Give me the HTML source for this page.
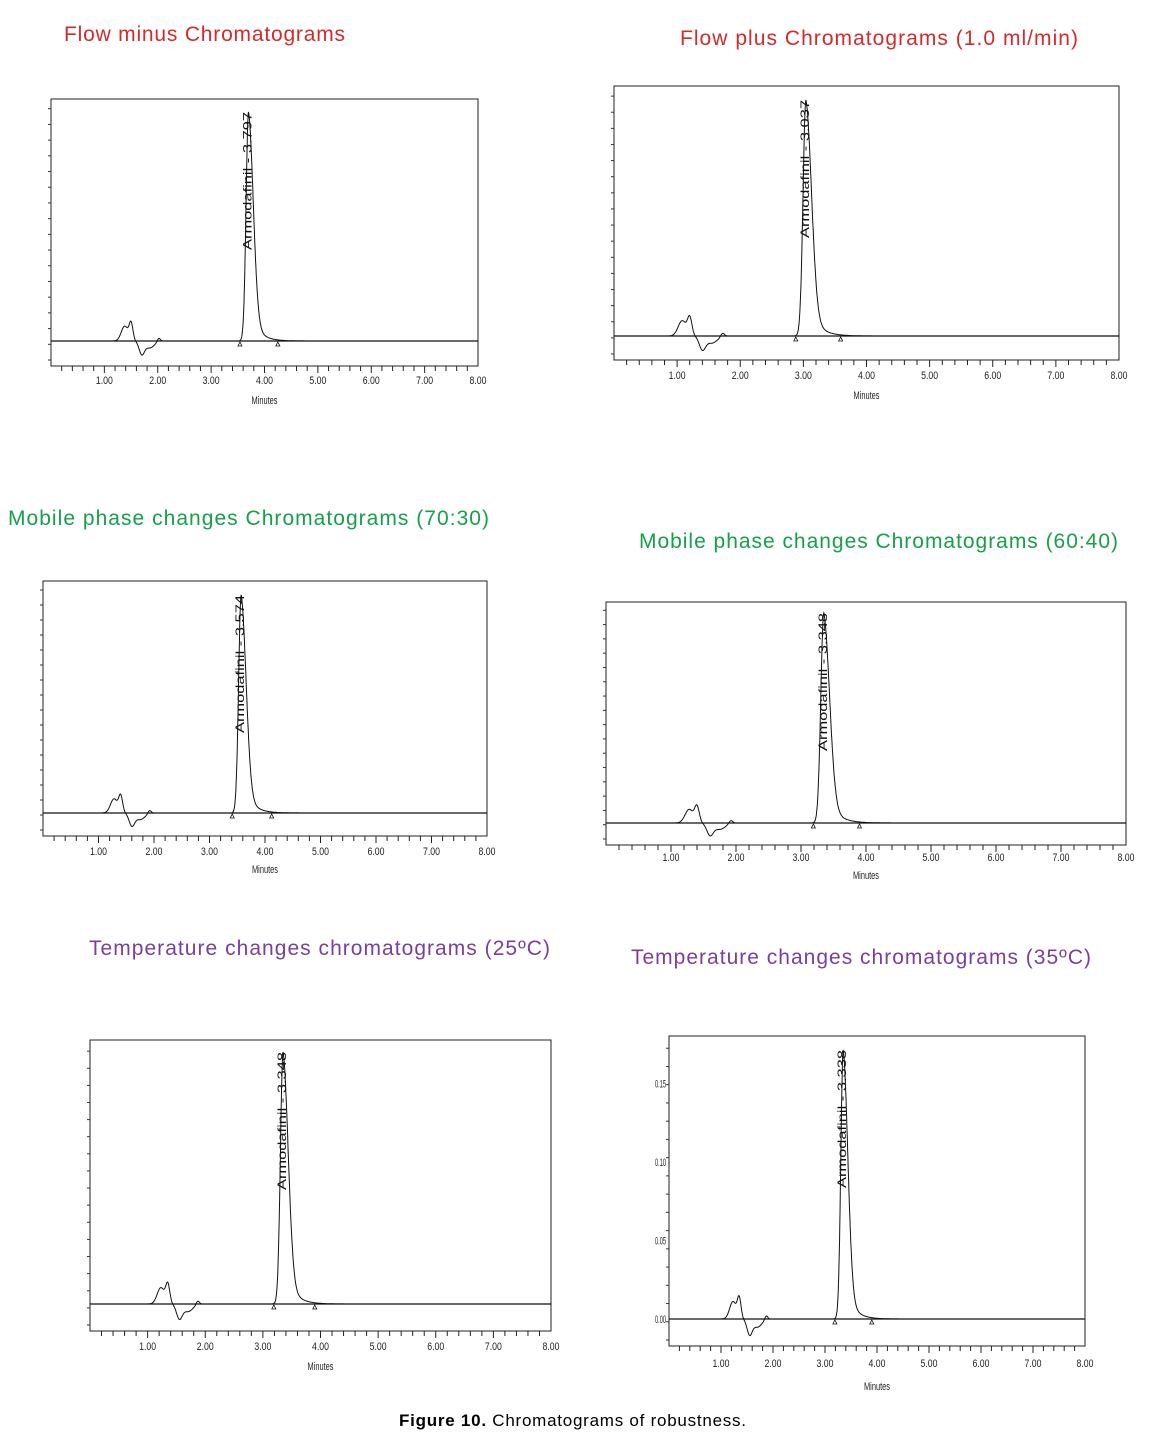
<!DOCTYPE html>
<html><head><meta charset="utf-8">
<style>
html,body{margin:0;padding:0;background:#fff;}
svg{display:block;font-family:"Liberation Sans",Arial,sans-serif;}
</style></head>
<body>
<svg id="s" width="1151" height="1448" xmlns="http://www.w3.org/2000/svg">
<text x="64" y="41" font-size="21" fill="#d42a2a" textLength="281">Flow minus Chromatograms</text>
<text x="680" y="45" font-size="21" fill="#d42a2a" textLength="398">Flow plus Chromatograms (1.0 ml/min)</text>
<text x="8" y="525" font-size="21" fill="#16a04a" textLength="481">Mobile phase changes Chromatograms (70:30)</text>
<text x="639" y="548" font-size="21" fill="#16a04a" textLength="479">Mobile phase changes Chromatograms (60:40)</text>
<text x="89" y="955" font-size="21" fill="#7a3f9e" textLength="461">Temperature changes chromatograms (25ºC)</text>
<text x="631" y="964" font-size="21" fill="#7a3f9e" textLength="460">Temperature changes chromatograms (35ºC)</text>
<text x="399" y="1426" font-size="17" fill="#000" textLength="347"><tspan font-weight="bold">Figure 10.</tspan> Chromatograms of robustness.</text>
</svg>
<script>
var s=document.getElementById('s');
var NS='http://www.w3.org/2000/svg';
function el(n,a,t){var e=document.createElementNS(NS,n);for(var k in a)e.setAttribute(k,a[k]);if(t)e.textContent=t;s.appendChild(e);return e;}
var C=[
 {L:51,T:99,R:478,B:366,base:341,pt:3.70,top:112,bt:1.5,lab:"Armodafinil - 3.797",ly:384,my:404},
 {L:614,T:86,R:1119,B:360,base:336,pt:3.04,top:100,bt:1.2,lab:"Armodafinil - 3.037",ly:379,my:399},
 {L:43,T:581,R:487,B:836,base:813,pt:3.57,top:595,bt:1.4,lab:"Armodafinil - 3.574",ly:855,my:873},
 {L:606,T:602,R:1126,B:845,base:823,pt:3.35,top:613,bt:1.4,lab:"Armodafinil - 3.348",ly:861,my:879},
 {L:90,T:1040,R:551,B:1331,base:1304,pt:3.35,top:1052,bt:1.35,lab:"Armodafinil - 3.348",ly:1350,my:1370},
 {L:669,T:1036,R:1085,B:1346,base:1319,pt:3.35,top:1050,bt:1.35,lab:"Armodafinil - 3.338",ly:1367,my:1390,yl:true}
];
function g(x,m,w){var z=(x-m)/w;return Math.exp(-z*z);}
C.forEach(function(c){
 var sc=(c.R-c.L)/8;
 function X(t){return c.L+t*sc;}
 el('rect',{x:c.L,y:c.T,width:c.R-c.L,height:c.B-c.T,fill:'none',stroke:'#222','stroke-width':1});
 for(var i=1;i<40;i++){var t=i*0.2;var x=X(t);var big=(i%5==0);
  el('line',{x1:x,y1:c.B,x2:x,y2:c.B+(big?7:5),stroke:'#222','stroke-width':1});}
 for(var i=1;i<=8;i++){el('text',{x:X(i),y:c.ly,'font-size':11,'text-anchor':'middle',fill:'#222',textLength:17,lengthAdjust:'spacingAndGlyphs'},i+'.00');}
 el('text',{x:X(4),y:c.my,'font-size':11,'text-anchor':'middle',fill:'#222',textLength:26,lengthAdjust:'spacingAndGlyphs'},'Minutes');
 var H=c.base-c.top;
 for(var y=c.B-6;y>c.T+5;y-=(c.B-c.T)/17){el('line',{x1:c.L-3,y1:y,x2:c.L,y2:y,stroke:'#333','stroke-width':1});}
 if(c.yl){[[0,'0.00'],[0.05,'0.05'],[0.10,'0.10'],[0.15,'0.15']].forEach(function(v){
   el('text',{x:c.L-3,y:c.base-(v[0]/0.05)*78.5+4,'font-size':11,'text-anchor':'end',fill:'#222',textLength:11,lengthAdjust:'spacingAndGlyphs'},v[1]);});}
 el('line',{x1:c.L,y1:c.base,x2:c.R,y2:c.base,stroke:'#111','stroke-width':1.2});
 var d='',hb=H*0.1;
 for(var k=0;k<=1600;k++){
  var t=k*0.005, y=0;
  y+=hb*(0.65*g(t,c.bt-0.12,0.09)+0.75*g(t,c.bt,0.05));
  y-=hb*0.55*g(t,c.bt+0.2,0.07);
  y-=hb*0.3*g(t,c.bt+0.35,0.12);
  y+=hb*0.15*g(t,c.bt+0.52,0.04);
  var p=t-c.pt;
  if(p<0) y+=H*Math.exp(-p*p/(2*0.045*0.045));
  else y+=H*(0.85*Math.exp(-p*p/(2*0.09*0.09))+0.15*Math.exp(-p/0.16));
  d+=(k?'L':'M')+X(t).toFixed(1)+' '+(c.base-y).toFixed(1);
 }
 el('path',{d:d,fill:'none',stroke:'#111','stroke-width':1});
 [c.pt-0.16,c.pt+0.55].forEach(function(t){var x=X(t);
  el('path',{d:'M'+(x-2)+' '+(c.base+5)+'L'+(x+2)+' '+(c.base+5)+'L'+x+' '+(c.base+1)+'Z',fill:'none',stroke:'#111','stroke-width':0.8});});
 var lx=X(c.pt)+3, ly0=c.top+138;
 el('text',{x:lx,y:ly0,'font-size':12,fill:'#111',transform:'rotate(-90 '+lx+' '+ly0+')',textLength:138,lengthAdjust:'spacingAndGlyphs'},c.lab);
});
</script>
</body></html>
